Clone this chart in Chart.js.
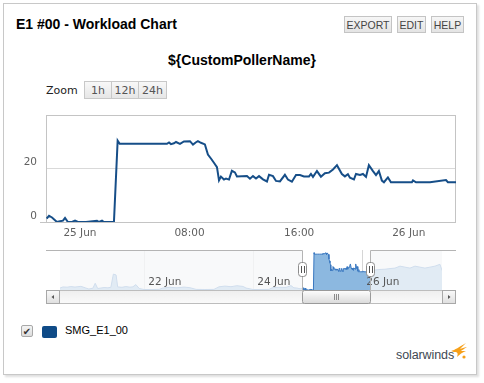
<!DOCTYPE html>
<html><head><meta charset="utf-8">
<script src="https://cdn.jsdelivr.net/npm/chart.js@4.4.1/dist/chart.umd.min.js"></script>
<style>
html,body{margin:0;padding:0;background:#fff;width:484px;height:383px;overflow:hidden;position:relative;}
.abs{position:absolute;}
#panel{left:3px;top:3px;width:472px;height:370px;border:1px solid #c8c8c8;box-shadow:2px 2px 2px rgba(0,0,0,0.13);background:#fff;}
#title{left:16px;top:16px;font:bold 14px "Liberation Sans",Arial,sans-serif;color:#000;white-space:nowrap;}
.btn{top:16px;height:15px;border:1px solid #c4c4c4;background:linear-gradient(#f6f6f6,#e4e4e4);font:10.5px "Liberation Sans",Arial,sans-serif;color:#444;display:flex;align-items:center;justify-content:center;box-sizing:content-box;}
#sub{left:0;top:52px;width:484px;text-align:center;font:bold 14px "Liberation Sans",Arial,sans-serif;color:#000;}
#zoom{left:46px;top:84px;font:11px "DejaVu Sans",sans-serif;color:#222;}
.zb{top:81px;height:16px;border:1px solid #c8c8c8;background:linear-gradient(#f8f8f8,#e6e6e6);font:11px "DejaVu Sans",sans-serif;color:#555;display:flex;align-items:center;justify-content:center;}
canvas{position:absolute;left:0;}
#chk{left:21px;top:325px;width:10px;height:10px;border:1px solid #a8a8a8;border-radius:2px;background:linear-gradient(#f4f4f4,#dcdcdc);font:bold 10px "DejaVu Sans",sans-serif;color:#333;display:flex;align-items:center;justify-content:center;}
#sw{left:42px;top:326px;width:15px;height:12px;border-radius:2px;background:#0f4b87;}
#lg{left:65px;top:324px;font:11px "Liberation Sans",Arial,sans-serif;color:#000;}
#sw2{left:396px;top:348px;font:12.5px "Liberation Sans",Arial,sans-serif;color:#3e4852;letter-spacing:-0.1px;}
</style></head>
<body>
<div id="panel" class="abs"></div>
<div id="title" class="abs">E1 #00 - Workload Chart</div>
<div class="abs btn" style="left:344px;width:46px;">EXPORT</div>
<div class="abs btn" style="left:397px;width:27px;">EDIT</div>
<div class="abs btn" style="left:431px;width:31px;">HELP</div>
<div id="sub" class="abs">${CustomPollerName}</div>
<div id="zoom" class="abs">Zoom</div>
<div class="abs zb" style="left:84px;width:26px;">1h</div>
<div class="abs zb" style="left:111px;width:26px;">12h</div>
<div class="abs zb" style="left:138px;width:27px;">24h</div>
<canvas id="main" width="484" height="145" style="top:100px;width:484px;height:145px;"></canvas>
<canvas id="nav" width="484" height="62" style="top:245px;width:484px;height:62px;"></canvas>
<div id="chk" class="abs">✔</div>
<div id="sw" class="abs"></div>
<div id="lg" class="abs">SMG_E1_00</div>
<div id="sw2" class="abs">solarwinds</div>
<svg class="abs" style="left:450px;top:342px" width="18" height="19" viewBox="0 0 18 19">
  <path d="M1,9 C5,8 9,5 16,1 C13,4 11,6 10,7 C13,6 15,5 17,5 C14,7 12,8 11,9 C13,9 15,9 16,9 C13,10 10,12 7,15 C8,12 8,11 6,10 C5,10 3,10 1,9 Z" fill="#f6a01a"/>
  <circle cx="14" cy="15" r="1.6" fill="#f6a01a"/>
</svg>
<script>
// ---- data (hours relative to 25 Jun 00:00) ----
const mainTimes = [-2.43,-2.26,-2.04,-1.68,-1.46,-1.24,-1.09,-0.88,-0.58,-0.36,-0.15,0.44,1.24,1.39,1.61,1.75,2.19,2.48,2.75,2.90,3.65,4.38,5.11,5.84,6.35,6.50,6.64,6.86,7.01,7.30,7.59,8.03,8.25,8.47,8.61,8.83,9.12,9.34,9.56,9.78,10.0,10.15,10.29,10.51,10.66,10.88,11.09,11.31,11.46,12.19,12.41,12.63,12.85,13.07,13.36,13.65,13.80,14.09,14.31,14.60,14.96,15.18,15.47,15.77,16.06,16.35,16.72,16.86,17.01,17.30,17.59,17.88,18.18,18.47,18.76,19.12,19.34,19.56,19.71,20.0,20.15,20.44,20.66,20.88,21.09,21.39,21.61,21.82,22.04,22.19,22.48,22.70,23.36,24.23,24.31,24.53,25.55,26.72,26.86,27.45];
const mainValues = [1.3,2.3,1.7,0,0.3,0.5,1.5,0,0,0.5,0,0,0.5,0,0.5,0,0,0,30.5,29.3,29.3,29.3,29.3,29.3,29.3,29.8,29.2,29.5,30,29.3,30.2,30.3,29.0,29.9,30.3,29.7,29.1,25.3,23.8,22.2,20.6,15.6,17,15.9,16.3,15.9,19.2,18.6,17.1,17.2,16.2,17.2,16.3,17.2,16.0,15.2,17.7,17.2,15.4,15.2,17.7,15.9,15.1,17.6,17.6,17.1,17.1,18.0,16.9,19.1,17.0,18.3,18.5,19.7,21.3,18.0,17.1,17.9,16.6,16.0,18.0,17.6,18.0,16.9,21.3,19.1,17.6,19.1,15.5,14.9,16.7,14.9,14.9,14.9,15.6,14.9,14.9,15.7,14.9,14.9];
const navPreTimes = [-109.1,-107.8,-106.0,-104.3,-102.5,-101.2,-99.9,-97.7,-96.4,-94.6,-93.6,-92.5,-91.5,-89.7,-88.0,-86.7,-85.6,-84.4,-83.7,-81.8,-80.1,-78.3,-77.0,-75.7,-74.2,-72.1,-68.6,-65.5,-63.8,-60.7,-57.6,-54.5,-51.9,-49.2,-45.3,-41.3,-39.1,-36.5,-33.8,-31.2,-28.5,-27.2,-24.1,-20.6,-17.1,-15.3,-12.2,-9.6,-7.4,-6.1,-4.8,-3.4];
const navPreValues = [1.6,2.5,2.3,2.8,2.4,2.7,3,1.6,0.8,1.5,5.5,1.2,1.5,2,1.8,2.2,13,12.3,2.5,2.2,2.8,2.3,2.6,4.4,1.2,0.4,0.4,0.5,1.6,2.2,1.8,2.4,1.9,0.5,0.4,0.5,2.6,3.2,2.7,3.5,2.9,1.6,0.4,0.4,0.5,2,2.2,2.1,3.6,1.8,1.6,1.0];
const navPostTimes = [27.8,29.6,31.8,34.0,36.2,38.4,40.6,42.8,45.0,47.2,49.4,51.6,53.8,56.0,58.2,59.1];
const navPostValues = [15.4,16.3,16.8,17,17.5,17.9,19.5,18.7,17.9,19.5,18.7,17.9,18.7,19.5,21,16];
const yTicks = [0,20,40];
const xTickHours = [0,8,16,24];
const xTickLabels = ['25 Jun','08:00','16:00','26 Jun'];
const navTickHours = [-72,-24,24];
const navTickLabels = ['22 Jun','24 Jun','26 Jun'];
const viewMin = -2.48, viewMax = 27.45;
const navMin = -109.1, navMax = 59.1;
const seriesName = 'SMG_E1_00';

const LINE = '#164e88';
const tickFont = {family:'DejaVu Sans', size:10.5};

const frame = {
  id:'frame',
  beforeDatasetsDraw(c){
    const a=c.chartArea, g=c.ctx;
    g.save(); g.strokeStyle='#c4c4c4'; g.lineWidth=1;
    g.strokeRect(Math.round(a.left)+0.5, Math.round(a.top)+0.5, Math.round(a.right-a.left)-1, Math.round(a.bottom-a.top));
    g.beginPath(); g.moveTo(40, Math.round(a.bottom)+0.5); g.lineTo(a.left, Math.round(a.bottom)+0.5); g.stroke();
    g.restore();
  }
};

new Chart(document.getElementById('main'), {
  type:'line',
  data:{datasets:[{label:seriesName, data: mainTimes.map((t,i)=>({x:t,y:mainValues[i]})), borderColor:LINE, borderWidth:2, pointRadius:0, tension:0, fill:false}]},
  options:{
    responsive:false, animation:false, devicePixelRatio:1,
    layout:{padding:{left:0,right:28,top:5,bottom:0}},
    plugins:{legend:{display:false}, tooltip:{enabled:false}},
    scales:{
      x:{type:'linear', min:viewMin, max:viewMax,
        afterBuildTicks:s=>{s.ticks = xTickHours.map(v=>({value:v}));},
        afterFit:s=>{s.height=23;},
        grid:{display:false, drawTicks:false}, border:{display:false},
        ticks:{padding:5, color:'#606060', font:tickFont, maxRotation:0, autoSkip:false,
          callback:(v)=>xTickLabels[xTickHours.indexOf(v)]}},
      y:{min:0, max:40,
        afterBuildTicks:s=>{s.ticks = yTicks.map(v=>({value:v}));},
        afterFit:s=>{s.width=46;},
        grid:{drawTicks:false, color:(ctx)=> (ctx.tick && ctx.tick.value===20) ? '#d9d9d9' : 'rgba(0,0,0,0)'},
        border:{display:false},
        ticks:{padding:9, labelOffset:-6, color:'#606060', font:tickFont,
          callback:(v)=> v===40 ? '' : String(v)}}
    }
  },
  plugins:[frame]
});

const navPlugin = {
  id:'navPlugin',
  afterDatasetsDraw(c){
    const a=c.chartArea, g=c.ctx, xs=c.scales.x;
    const l=Math.round(xs.getPixelForValue(viewMin)), r=Math.round(xs.getPixelForValue(viewMax));
    g.save();
    g.fillStyle='rgba(246,247,249,0.8)';
    g.fillRect(a.left, a.top, l-a.left, a.bottom-a.top);
    g.fillRect(r, a.top, a.right-r, a.bottom-a.top);
    g.restore();
  },
  afterDraw(c){
    const a=c.chartArea, g=c.ctx, xs=c.scales.x;
    const l=Math.round(xs.getPixelForValue(viewMin)), r=Math.round(xs.getPixelForValue(viewMax));
    const L=46, R=456, top=Math.round(a.top), bot=Math.round(a.bottom);
    g.save();
    const sy=bot, sh=14;
    let gr=g.createLinearGradient(0,sy,0,sy+sh); gr.addColorStop(0,'#eeeeee'); gr.addColorStop(1,'#fbfbfb');
    g.fillStyle=gr; g.fillRect(L,sy,R-L,sh);
    g.strokeStyle='#bdbdbd'; g.lineWidth=1; g.strokeRect(L+0.5,sy+0.5,R-L-1,sh-1);
    function btn(x){
      const bg=g.createLinearGradient(0,sy,0,sy+sh); bg.addColorStop(0,'#fbfbfb'); bg.addColorStop(1,'#dedede');
      g.fillStyle=bg; g.fillRect(x,sy,14,sh);
      g.strokeStyle='#a8a8a8'; g.strokeRect(x+0.5,sy+0.5,13,sh-1);
    }
    btn(L); btn(R-14);
    g.fillStyle='#555';
    g.beginPath(); g.moveTo(L+5.5,sy+7); g.lineTo(L+8,sy+5); g.lineTo(L+8,sy+9); g.closePath(); g.fill();
    g.beginPath(); g.moveTo(R-5.5,sy+7); g.lineTo(R-8,sy+5); g.lineTo(R-8,sy+9); g.closePath(); g.fill();
    const tg=g.createLinearGradient(0,sy,0,sy+sh); tg.addColorStop(0,'#ffffff'); tg.addColorStop(1,'#d9d9d9');
    g.fillStyle=tg; g.beginPath(); g.roundRect(l+0.5,sy+0.5,r-l,sh-1,2); g.fill();
    g.strokeStyle='#9a9a9a'; g.stroke();
    const cx=Math.round((l+r)/2);
    g.strokeStyle='#8a8a8a';
    for(const dx of [-2,0,2]){ g.beginPath(); g.moveTo(cx+dx+0.5,sy+4); g.lineTo(cx+dx+0.5,sy+10); g.stroke(); }
    g.strokeStyle='#b4b4b4';
    g.beginPath(); g.moveTo(L,top+0.5); g.lineTo(l+0.5,top+0.5); g.lineTo(l+0.5,bot);
    g.moveTo(r+0.5,bot); g.lineTo(r+0.5,top+0.5); g.lineTo(R,top+0.5); g.stroke();
    function handle(x){
      g.fillStyle='#ffffff'; g.strokeStyle='#8c8c8c';
      g.beginPath(); g.roundRect(x-3.5,top+12.5,8,14,3); g.fill(); g.stroke();
      g.strokeStyle='#555';
      g.beginPath(); g.moveTo(x-0.5,top+16); g.lineTo(x-0.5,top+23); g.moveTo(x+2.5,top+16); g.lineTo(x+2.5,top+23); g.stroke();
    }
    handle(l); handle(r);
    g.restore();
  }
};

const navTimes = navPreTimes.concat(mainTimes, navPostTimes);
const navValues = navPreValues.concat(mainValues, navPostValues);
new Chart(document.getElementById('nav'), {
  type:'line',
  data:{datasets:[{data: navTimes.map((t,i)=>({x:t,y:navValues[i]})), borderColor:'#3a78c0', borderWidth:1, backgroundColor:'#8cb8e0', fill:'origin', pointRadius:0, tension:0}]},
  options:{
    responsive:false, animation:false, devicePixelRatio:1,
    layout:{padding:{left:60,right:42,top:5,bottom:0}},
    plugins:{legend:{display:false}, tooltip:{enabled:false}},
    scales:{
      x:{type:'linear', min:navMin, max:navMax,
        afterBuildTicks:s=>{s.ticks = navTickHours.map(v=>({value:v}));},
        afterFit:s=>{s.height=17;},
        grid:{drawTicks:false, color:'#d6d6d6'}, border:{display:false},
        ticks:{z:1, mirror:true, align:'start', labelOffset:4, padding:1, color:'#555', font:tickFont, maxRotation:0, autoSkip:false,
          callback:(v)=>navTickLabels[navTickHours.indexOf(v)]}},
      y:{display:false, min:0, max:32.7}
    }
  },
  plugins:[navPlugin]
});
</script>
</body></html>
